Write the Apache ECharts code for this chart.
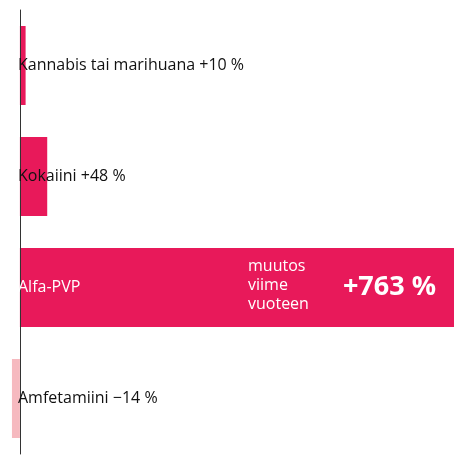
<!DOCTYPE html>
<html>
<head>
<meta charset="utf-8">
<script src="https://cdn.jsdelivr.net/npm/echarts@6/dist/echarts.min.js"></script>
<style>html,body{margin:0;padding:0;background:#fff}#c{width:468px;height:468px}</style>
</head>
<body>
<div id="c"></div>
<script>
let categories = ['Kannabis tai marihuana', 'Kokaiini', 'Alfa-PVP', 'Amfetamiini'];
let changes = [10, 48, 763, -14];
let labels = ['Kannabis tai marihuana +10 %', 'Kokaiini +48 %', 'Alfa-PVP', 'Amfetamiini \u221214 %'];

let myChart = echarts.init(document.getElementById('c'));
let bar_data = changes.map(function (v, i) {
    return {
        value: v,
        itemStyle: {color: v < 0 ? '#f6b9bf' : '#e8195a'},
        label: {show: i == 2}
    };
});

let option = {
    animation: false,
    textStyle: {fontFamily: 'Open Sans'},
    grid: {left: 0, right: 14, top: 10, bottom: 14},
    xAxis: {type: 'value', min: -35, max: 763, show: false},
    yAxis: {
        type: 'category',
        inverse: true,
        data: categories,
        axisLine: {onZero: true, lineStyle: {color: '#333', width: 1}},
        axisTick: {show: false},
        axisLabel: {
            inside: true,
            margin: 18,
            fontSize: 16,
            fontFamily: 'Open Sans',
            color: function (v, i) { return i == 2 ? '#fff' : '#111'; },
            formatter: function (v, i) { return labels[i]; }
        },
        z: 5
    },
    graphic: [{
        type: 'text', left: 248, top: 257, z: 10,
        style: {text: 'muutos\nviime\nvuoteen', fill: '#fff', fontSize: 16, lineHeight: 19, fontFamily: 'Open Sans'}
    }],
    series: [{
        type: 'bar',
        data: bar_data,
        barWidth: 79,
        label: {
            position: 'insideRight',
            distance: 18,
            color: '#fff',
            fontSize: 27,
            fontWeight: 'bold',
            fontFamily: 'Open Sans',
            formatter: function (p) { return '+' + p.value + ' %'; }
        }
    }]
};
myChart.setOption(option);
</script>
</body>
</html>
